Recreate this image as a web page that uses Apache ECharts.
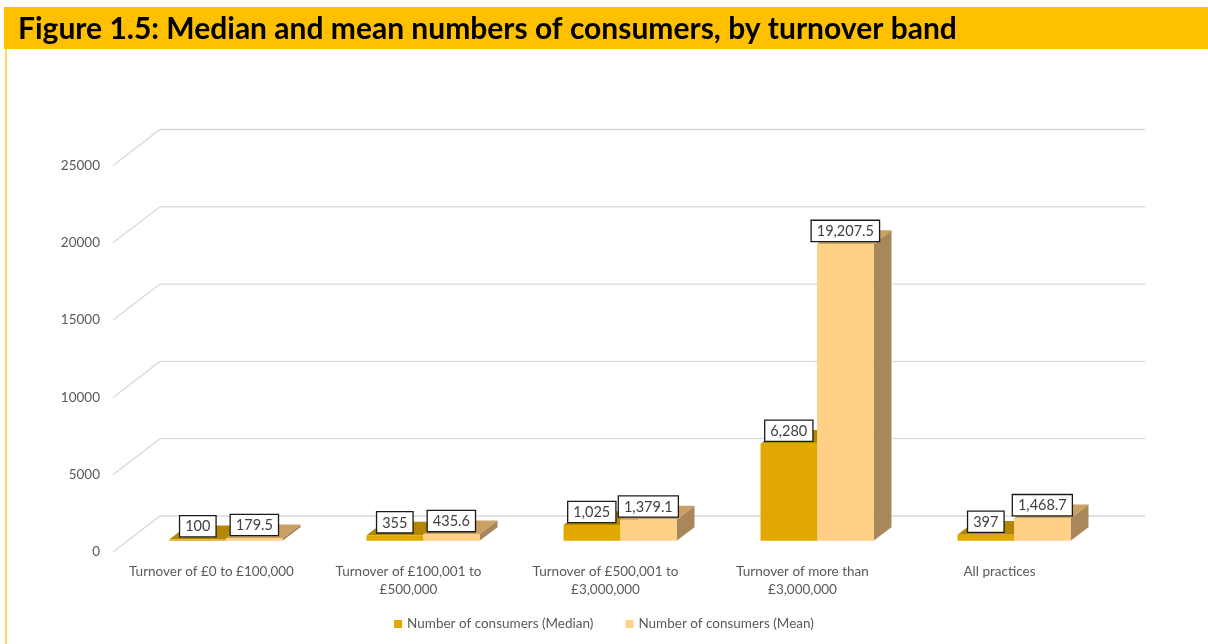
<!DOCTYPE html>
<html>
<head>
<meta charset="utf-8">
<script src="https://cdn.jsdelivr.net/npm/echarts@6/dist/echarts.min.js"></script>
<style>
  html, body { margin: 0; padding: 0; background: #ffffff; }
  #chart { width: 1208px; height: 644px; }
</style>
</head>
<body>
<div id="chart"></div>
<script>
// Turnover bands and the consumer counts for each
const categories = [
  'Turnover of £0 to £100,000',
  'Turnover of £100,001 to\n£500,000',
  'Turnover of £500,001 to\n£3,000,000',
  'Turnover of more than\n£3,000,000',
  'All practices'
];
const medianValues = [100, 355, 1025, 6280, 397];
const meanValues = [179.5, 435.6, 1379.1, 19207.5, 1468.7];
const yTicks = [0, 5000, 10000, 15000, 20000, 25000];
const seriesNames = ['Number of consumers (Median)', 'Number of consumers (Mean)'];

// Oblique projection of the depth axis (pixels from front edge to back wall)
const DEPTH_X = 47;
const DEPTH_Y = 36;
const BAR_FRONT = 0.31;   // fraction of depth where bar fronts stand
const BAR_BACK = 0.69;    // fraction of depth where bar backs end
const BAR_SHARE = 0.287;  // width of one bar as share of the category band

const FONT = 'Lato, "Noto Sans", sans-serif';

const palettes = [
  { front: '#E0A800', top: '#B38800', side: '#9C7600' },
  { front: '#FFD085', top: '#C9A163', side: '#A8875A' }
];

function formatValue(v) {
  return v.toLocaleString('en-US', { maximumFractionDigits: 1 });
}

// Floor/back-wall gridlines: short diagonal on the left, then along the back wall
function renderGrid(params, api) {
  const cs = params.coordSys;
  const p = api.coord([0, api.value(1)]);
  const x0 = cs.x;
  const y = p[1];
  return {
    type: 'polyline',
    shape: {
      points: [
        [x0, y],
        [x0 + DEPTH_X, y - DEPTH_Y],
        [x0 + cs.width + DEPTH_X, y - DEPTH_Y]
      ]
    },
    style: { stroke: '#D9D9D9', lineWidth: 1.3, fill: null }
  };
}

// 3D-looking bar: front face, top face, right side face and a boxed value label
function makeBarRenderer(slot) {
  const pal = palettes[slot];
  return function (params, api) {
    const c = api.value(0);
    const v = api.value(1);
    const topPt = api.coord([c, v]);
    const basePt = api.coord([c, 0]);
    const band = api.size([1, 0])[0];
    const w = band * BAR_SHARE;
    const fx = DEPTH_X * BAR_FRONT;
    const fy = DEPTH_Y * BAR_FRONT;
    const bx = DEPTH_X * (BAR_BACK - BAR_FRONT);
    const by = DEPTH_Y * (BAR_BACK - BAR_FRONT);
    const x0 = topPt[0] + fx + (slot === 0 ? -w : 0);
    const x1 = x0 + w;
    const yT = topPt[1] - fy;
    const yB = basePt[1] - fy;
    return {
      type: 'group',
      children: [
        {
          type: 'polygon',
          shape: { points: [[x1, yT], [x1 + bx, yT - by], [x1 + bx, yB - by], [x1, yB]] },
          style: { fill: pal.side }
        },
        {
          type: 'polygon',
          shape: { points: [[x0, yT], [x1, yT], [x1 + bx, yT - by], [x0 + bx, yT - by]] },
          style: { fill: pal.top }
        },
        {
          type: 'rect',
          shape: { x: x0, y: yT, width: w, height: Math.max(yB - yT, 0.5) },
          style: { fill: pal.front }
        },
        {
          type: 'text',
          z2: 10,
          style: {
            text: formatValue(v),
            x: (x0 + x1) / 2,
            y: yT - 3,
            align: 'center',
            verticalAlign: 'bottom',
            fill: '#404040',
            font: '14.5px ' + FONT,
            backgroundColor: '#ffffff',
            borderColor: '#1a1a1a',
            borderWidth: 1.3,
            padding: [3, 5, 2, 5]
          }
        }
      ]
    };
  };
}

const chart = echarts.init(document.getElementById('chart'), null, { renderer: 'canvas' });

chart.setOption({
  backgroundColor: '#ffffff',
  animation: false,
  textStyle: { fontFamily: FONT },
  graphic: [
    { type: 'rect', shape: { x: 4, y: 7, width: 1204, height: 42 }, style: { fill: '#FFC000' }, silent: true },
    { type: 'rect', shape: { x: 5, y: 49, width: 2, height: 595 }, style: { fill: '#FFD966' }, silent: true },
    {
      type: 'text', left: 18, top: 14, silent: true,
      style: {
        text: 'Figure 1.5: Median and mean numbers of consumers, by turnover band',
        fill: '#000000',
        font: 'bold 30px ' + FONT
      }
    }
  ],
  legend: {
    bottom: 8,
    left: 'center',
    icon: 'rect',
    itemWidth: 8,
    itemHeight: 8,
    itemGap: 32,
    textStyle: { color: '#595959', fontSize: 13.5, fontFamily: FONT },
    data: seriesNames
  },
  grid: { left: 113, right: 110, top: 165.5, bottom: 92, containLabel: false },
  xAxis: {
    type: 'category',
    data: categories,
    axisLine: { show: false },
    axisTick: { show: false },
    splitLine: { show: false },
    axisLabel: {
      color: '#595959',
      fontSize: 13.5,
      fontFamily: FONT,
      margin: 11,
      lineHeight: 18,
      interval: 0
    }
  },
  yAxis: {
    type: 'value',
    min: 0,
    max: 25000,
    interval: 5000,
    axisLine: { show: false },
    axisTick: { show: false },
    splitLine: { show: false },
    axisLabel: {
      color: '#595959', fontSize: 13.5, fontFamily: FONT, margin: 13,
      padding: [5, 0, 0, 0],
      formatter: function (v) { return String(v); }
    }
  },
  series: [
    {
      type: 'custom',
      name: 'grid',
      silent: true,
      z: 1,
      renderItem: renderGrid,
      encode: { x: 0, y: 1 },
      data: yTicks.map(function (t) { return [0, t]; })
    },
    {
      type: 'custom',
      name: seriesNames[0],
      z: 3,
      itemStyle: { color: palettes[0].front },
      renderItem: makeBarRenderer(0),
      encode: { x: 0, y: 1 },
      data: medianValues.map(function (v, i) { return [i, v]; })
    },
    {
      type: 'custom',
      name: seriesNames[1],
      z: 4,
      itemStyle: { color: palettes[1].front },
      renderItem: makeBarRenderer(1),
      encode: { x: 0, y: 1 },
      data: meanValues.map(function (v, i) { return [i, v]; })
    }
  ]
});
</script>
</body>
</html>
